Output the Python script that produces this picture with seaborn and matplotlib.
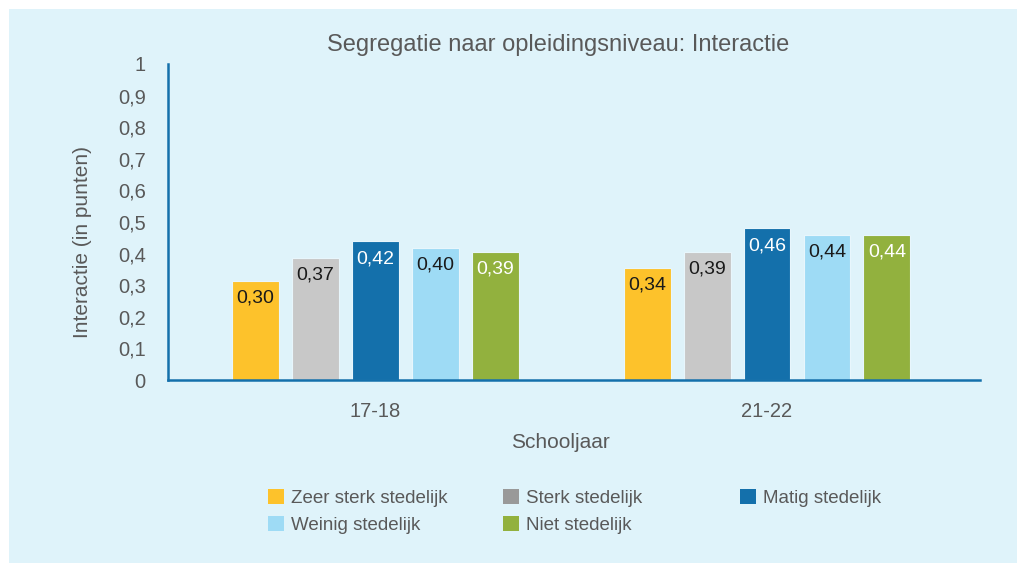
import matplotlib
matplotlib.use("Agg")
import matplotlib.pyplot as plt
import seaborn as sns
import pandas as pd
from matplotlib.patches import Rectangle, Patch

# ---- data ----
schooljaren = ["17-18", "21-22"]
categorieen = ["Zeer sterk stedelijk", "Sterk stedelijk", "Matig stedelijk",
               "Weinig stedelijk", "Niet stedelijk"]
waarden_1718 = [0.313, 0.386, 0.439, 0.418, 0.406]
waarden_2122 = [0.355, 0.406, 0.480, 0.459, 0.459]
labels_1718 = ["0,30", "0,37", "0,42", "0,40", "0,39"]
labels_2122 = ["0,34", "0,39", "0,46", "0,44", "0,44"]
y_ticks = [0, 0.1, 0.2, 0.3, 0.4, 0.5, 0.6, 0.7, 0.8, 0.9, 1]
y_ticklabels = ["0", "0,1", "0,2", "0,3", "0,4", "0,5", "0,6", "0,7", "0,8", "0,9", "1"]

bar_colors = ["#FDC22B", "#C8C8C8", "#1470AB", "#9EDBF5", "#92B13E"]
legend_colors = ["#FDC22B", "#999999", "#1470AB", "#9EDBF5", "#92B13E"]
label_colors = ["#1A1A1A", "#1A1A1A", "white", "#1A1A1A", "white"]

df = pd.DataFrame({
    "Schooljaar": [s for s in schooljaren for _ in categorieen],
    "Categorie": categorieen * 2,
    "Waarde": waarden_1718 + waarden_2122,
})

BG = "#DFF3FA"
TXT = "#595959"
AXC = "#1470AB"

sns.set_theme(style="white")
plt.rcParams["font.family"] = ["Liberation Sans", "DejaVu Sans"]

W, H = 1019, 563
fig = plt.figure(figsize=(W / 100, H / 100), dpi=100, facecolor="white")
bg = Rectangle((9 / W, 0), (W - 11) / W, (H - 9) / H,
               transform=fig.transFigure, facecolor=BG,
               edgecolor="none", zorder=-10)
fig.patches.append(bg)

ax = fig.add_axes([168 / W, (H - 380) / H, (980 - 168) / W, (380 - 64) / H])
ax.set_facecolor("none")
ax.set_zorder(1)

sns.barplot(data=df, x="Schooljaar", y="Waarde", hue="Categorie",
            hue_order=categorieen, palette=bar_colors, saturation=1,
            width=0.766, gap=0.217,
            edgecolor="#E8F6FC", linewidth=0.8, legend=False, ax=ax)

ax.set_xlim(-0.53, 1.544)
ax.set_ylim(0, 1)
ax.set_yticks(y_ticks)
ax.set_yticklabels(y_ticklabels)
ax.tick_params(axis="both", length=0, colors=TXT, labelsize=14.5)
ax.tick_params(axis="y", pad=16)
ax.tick_params(axis="x", pad=16)
for s in ["top", "right"]:
    ax.spines[s].set_visible(False)
for s in ["left", "bottom"]:
    ax.spines[s].set_color(AXC)
    ax.spines[s].set_linewidth(1.8)

ax.set_ylabel("Interactie (in punten)", color=TXT, fontsize=15)
ax.yaxis.set_label_coords(-0.093, 0.437)
ax.set_xlabel("Schooljaar", color=TXT, fontsize=15)
ax.xaxis.set_label_coords(0.483, -0.168)
ax.set_title("Segregatie naar opleidingsniveau: Interactie", color=TXT,
             fontsize=17, pad=9, x=(558 - 168) / (980 - 168))

# data labels
all_labels = [labels_1718, labels_2122]
for ci, container in enumerate(ax.containers):
    for gi, bar in enumerate(container):
        h = bar.get_height()
        x = bar.get_x() + bar.get_width() / 2
        ax.annotate(all_labels[gi][ci], xy=(x, h), xytext=(0, -12.5),
                    textcoords="offset points", ha="center", va="center",
                    fontsize=14, color=label_colors[ci])

# legend: three columns placed separately
cols = [[0, 3], [1, 4], [2]]
col_x = [268, 503, 740]
for ccols, cx in zip(cols, col_x):
    handles = [Patch(facecolor=legend_colors[i], edgecolor="none") for i in ccols]
    labs = [categorieen[i] for i in ccols]
    leg = fig.legend(handles, labs, loc="upper left",
                     bbox_to_anchor=(cx / W, (H - 489) / H),
                     frameon=False, fontsize=13.5, handlelength=0.85,
                     handleheight=0.85, handletextpad=0.4, labelspacing=0.5,
                     borderaxespad=0, borderpad=0)
    for t in leg.get_texts():
        t.set_color(TXT)

fig.savefig("out.png", dpi=100, facecolor="white")
